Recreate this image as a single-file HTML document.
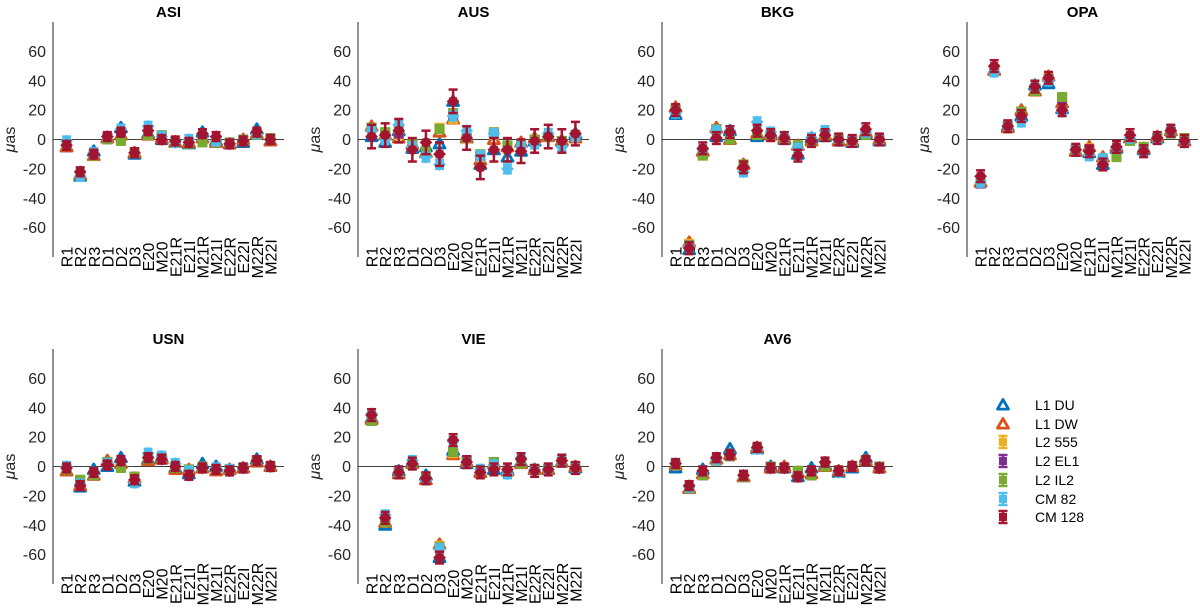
<!DOCTYPE html>
<html><head><meta charset="utf-8"><style>
html,body{margin:0;padding:0;background:#fff}
svg{display:block;font-family:"Liberation Sans",Arial,sans-serif}
</style></head><body>
<svg id="chart" width="1200" height="608" viewBox="0 0 1200 608"></svg>
<script>
const categories = ["R1","R2","R3","D1","D2","D3","E20","M20","E21R","E21I","M21R","M21I","E22R","E22I","M22R","M22I"];
const panelNames = ["ASI","AUS","BKG","OPA","USN","VIE","AV6"];
const seriesNames = ["L1 DU","L1 DW","L2 555","L2 EL1","L2 IL2","CM 82","CM 128"];
const yTicks = [60,40,20,0,-20,-40,-60];

const ASI_DU   = [-5,-25,-8,1,8,-10,4,0,-2,-3,5,-1,-3,-2,7,-1];
const ASI_DW   = [-5,-24,-11,1,3,-9,3,1,-2,-2,1,-2,-3,0,4,-1];
const ASI_555  = [-4,-24,-11,1,1,-9,4,2,-2,-3,0,-2,-3,-1,4,0];
const ASI_EL1  = [-4,-24,-10,1,2,-9,4,2,-2,-3,0,-2,-3,-1,4,0];
const ASI_IL2  = [-4,-24,-11,0,-1,-9,3,3,-2,-3,-2,-2,-2,0,3,1];
const ASI_CM82 = [-1,-25,-9,2,7,-9,9,2,-2,0,4,-1,-3,-1,4,0];
const ASI_CM128= [-4,-22,-10,2,5,-9,6,0,-1,-2,4,2,-3,-1,5,0];

const AUS_DU   = [2,-2,6,-6,-5,-3,26,1,-17,-7,-12,-8,-1,2,-1,4];
const AUS_DW   = [9,3,1,-3,-9,5,14,1,-14,0,-5,-2,1,2,-1,1];
const AUS_555  = [8,4,3,-3,-9,8,14,1,-12,3,-5,-3,0,2,-1,2];
const AUS_EL1  = [8,4,4,-3,-8,7,16,1,-11,4,-5,-3,0,2,-1,2];
const AUS_IL2  = [8,5,7,-3,-8,7,18,1,-10,5,-4,-3,0,2,-1,3];
const AUS_CM82 = [6,0,10,-5,-12,-17,16,6,-11,4,-20,-5,-3,4,-5,2];
const AUS_CM128= [2,3,6,-7,-2,-10,26,1,-19,-7,-7,-8,-1,2,-1,4];

const BKG_DU   = [17,-75,-8,2,6,-17,2,4,0,-10,1,2,-1,-2,4,-1];
const BKG_DW   = [22,-70,-8,8,0,-17,4,3,1,-4,-1,3,-1,-1,5,0];
const BKG_555  = [21,-71,-10,7,0,-17,4,3,0,-4,-1,3,0,-1,4,0];
const BKG_EL1  = [20,-72,-10,7,0,-17,3,3,0,-4,-1,3,0,-1,4,0];
const BKG_IL2  = [20,-72,-11,7,0,-17,3,3,0,-4,-1,3,0,-1,3,0];
const BKG_CM82 = [18,-73,-7,6,6,-22,12,5,2,-6,1,6,-1,-1,5,0];
const BKG_CM128= [20,-74,-6,1,5,-19,6,3,1,-11,-1,3,0,-1,7,0];

const OPA_DU   = [-29,47,9,16,37,38,21,-8,-9,-17,-6,1,-7,1,6,-1];
const OPA_DW   = [-29,47,8,20,33,43,25,-8,-5,-12,-5,1,-6,2,6,-1];
const OPA_555  = [-28,47,8,19,33,42,27,-7,-6,-13,-9,0,-6,1,5,0];
const OPA_EL1  = [-30,48,9,19,34,41,28,-7,-7,-14,-10,0,-6,1,5,0];
const OPA_IL2  = [-28,48,9,19,33,41,29,-7,-9,-14,-12,-1,-5,1,4,1];
const OPA_CM82 = [-29,46,9,12,37,40,19,-7,-11,-13,-6,1,-8,1,6,-2];
const OPA_CM128= [-25,50,9,16,36,42,20,-7,-8,-17,-5,3,-8,1,6,-1];

const USN_DU   = [-3,-14,-2,0,6,-10,5,6,-1,-5,2,0,-2,-1,5,0];
const USN_DW   = [-3,-13,-6,4,2,-8,4,5,-2,-2,-1,-3,-2,-1,3,0];
const USN_555  = [-2,-10,-6,3,0,-7,5,6,-1,-2,0,-2,-2,-1,4,0];
const USN_EL1  = [-2,-10,-6,3,0,-7,5,6,-1,-2,0,-2,-2,-1,4,0];
const USN_IL2  = [-2,-9,-6,3,-1,-7,5,6,-1,-2,0,-2,-2,-1,4,0];
const USN_CM82 = [0,-12,-4,2,4,-11,9,7,2,-3,-1,-1,-2,-1,4,0];
const USN_CM128= [-1,-13,-4,1,4,-9,6,5,0,-6,-1,-2,-3,-1,4,0];

const VIE_DU   = [33,-40,-3,3,-6,-62,11,2,-4,-2,-2,3,-2,-2,3,-1];
const VIE_DW   = [32,-38,-5,2,-9,-53,8,3,-4,2,-3,2,-2,-2,3,0];
const VIE_555  = [31,-38,-4,2,-8,-54,9,4,-3,3,-4,2,-2,-2,3,0];
const VIE_EL1  = [31,-38,-4,2,-8,-55,10,4,-3,3,-4,2,-2,-2,3,0];
const VIE_IL2  = [31,-38,-4,2,-7,-55,10,4,-3,3,-4,2,-2,-2,3,0];
const VIE_CM82 = [36,-33,-4,4,-9,-56,17,3,-2,1,-5,6,-2,-2,4,-1];
const VIE_CM128= [35,-35,-4,2,-8,-62,18,3,-4,-2,-2,5,-3,-2,4,-1];

const AV6_DU   = [-1,-15,-2,5,12,-7,12,0,-1,-7,-1,1,-4,-1,6,-1];
const AV6_DW   = [1,-15,-5,5,8,-7,13,-1,0,-4,-5,0,-3,0,4,-1];
const AV6_555  = [1,-15,-5,4,7,-7,12,0,-1,-3,-6,0,-3,0,4,0];
const AV6_EL1  = [1,-15,-6,4,7,-7,12,0,-1,-3,-6,0,-3,0,4,0];
const AV6_IL2  = [1,-15,-6,4,7,-7,12,0,-1,-3,-6,0,-3,0,4,0];
const AV6_CM82 = [2,-14,-3,5,8,-6,12,-1,-1,-7,-3,3,-4,0,4,-1];
const AV6_CM128= [2,-13,-3,6,8,-6,13,-1,-1,-7,-3,3,-3,0,4,-1];

const ERR_CM128 = {ASI:3,AUS:8,BKG:4,OPA:4,USN:3,VIE:4,AV6:3};
const ERR_CM82 = 3;
const ERR_L2 = 2;

const panelData = {
 ASI:[ASI_DU,ASI_DW,ASI_555,ASI_EL1,ASI_IL2,ASI_CM82,ASI_CM128],
 AUS:[AUS_DU,AUS_DW,AUS_555,AUS_EL1,AUS_IL2,AUS_CM82,AUS_CM128],
 BKG:[BKG_DU,BKG_DW,BKG_555,BKG_EL1,BKG_IL2,BKG_CM82,BKG_CM128],
 OPA:[OPA_DU,OPA_DW,OPA_555,OPA_EL1,OPA_IL2,OPA_CM82,OPA_CM128],
 USN:[USN_DU,USN_DW,USN_555,USN_EL1,USN_IL2,USN_CM82,USN_CM128],
 VIE:[VIE_DU,VIE_DW,VIE_555,VIE_EL1,VIE_IL2,VIE_CM82,VIE_CM128],
 AV6:[AV6_DU,AV6_DW,AV6_555,AV6_EL1,AV6_IL2,AV6_CM82,AV6_CM128]
};

const colors = ["#0072BD","#D95319","#EDB120","#7E2F8E","#77AC30","#4DBEEE","#A2142F"];
const NS="http://www.w3.org/2000/svg";
const svg=document.getElementById('chart');
function mk(tag,attrs,parent){const e=document.createElementNS(NS,tag);for(const k in attrs)e.setAttribute(k,attrs[k]);(parent||svg).appendChild(e);return e;}

const AX_W=231, AX_H=235;
const origins=[[53,22],[358,22],[662,22],[967,22],[53,349],[358,349],[662,349]];

function tri(g,x,y,c,name){
  const s=5.5;
  const p=mk('polygon',{points:`${x},${y-s} ${x+s},${y+s*0.75} ${x-s},${y+s*0.75}`,fill:'none',stroke:c,'stroke-width':2.8,'stroke-linejoin':'round'},g);
  
  
}
function ebar(g,x,y0,y1,c){
  mk('line',{x1:x,x2:x,y1:y0,y2:y1,stroke:c,'stroke-width':2.5},g);
  mk('line',{x1:x-4.5,x2:x+4.5,y1:y0,y2:y0,stroke:c,'stroke-width':2.5},g);
  mk('line',{x1:x-4.5,x2:x+4.5,y1:y1,y2:y1,stroke:c,'stroke-width':2.5},g);
}

panelNames.forEach((pn,pi)=>{
  const [ox,oy]=origins[pi];
  const xs=i=>ox+AX_W*(i+1)/17;
  const ys=v=>oy+AX_H*(80-v)/160;
  const g=mk('g',{});
  
  
  const t=mk('text',{x:ox+AX_W/2,y:oy-5,'text-anchor':'middle','font-size':15,'font-weight':'bold',fill:'#000'},g);
  t.textContent=pn;
  
  
  const ya=mk('line',{x1:ox,x2:ox,y1:oy,y2:oy+AX_H,stroke:'#262626','stroke-width':1},g);
  
  
  const zl=mk('line',{x1:ox,x2:ox+AX_W,y1:ys(0),y2:ys(0),stroke:'#404040','stroke-width':1},g);
  
  
  yTicks.forEach(v=>{
    const tt=mk('text',{x:ox-7,y:ys(v)+5.5,'text-anchor':'end','font-size':16,fill:'#262626'},g);
    tt.textContent=v;
    
    
  });
  const yl=mk('text',{x:0,y:0,transform:`translate(${ox-38},${ys(0)}) rotate(-90)`,'text-anchor':'middle','font-size':16,fill:'#262626'},g);
  yl.innerHTML='<tspan font-style="italic">μ</tspan>as';
  
  
  categories.forEach((c,i)=>{
    const xt=mk('text',{x:0,y:0,transform:`translate(${xs(i)+6},${oy+AX_H}) rotate(-90)`,'text-anchor':'middle','font-size':16,fill:'#000'},g);
    xt.textContent=c;
    
    
  });
  const ser=panelData[pn];
  ser.forEach((arr,si)=>{
    const sg=mk('g',{},g);
    
    
    arr.forEach((v,i)=>{
      const x=xs(i), y=ys(v), c=colors[si];
      if(si<2){ tri(sg,x,y,c,'marker'); }
      else if(si<5){
        ebar(sg,x,ys(v+ERR_L2),ys(v-ERR_L2),c);
        const r=mk('rect',{x:x-5,y:y-5,width:10,height:10,fill:c},sg);
        
        
      } else {
        const e=si===5?ERR_CM82:ERR_CM128[pn];
        ebar(sg,x,ys(v+e),ys(v-e),c);
        const m=mk('rect',{x:x-4.5,y:y-4.5,width:9,height:9,fill:c,transform:`rotate(45 ${x} ${y})`},sg);
        
        
        mk('rect',{x:x-4,y:y-4,width:8,height:8,fill:c},sg);
      }
    });
  });
});

const lg=mk('g',{});


const legY=[405,424,442,461,480,499,517];
seriesNames.forEach((n,si)=>{
  const x=1003,y=legY[si],c=colors[si];
  const eg=mk('g',{},lg);
  
  
  if(si<2) tri(eg,x,y,c,'legend-marker');
  else {
    ebar(eg,x,y-6,y+6,c);
    mk('rect',{x:x-4,y:y-4,width:8,height:8,fill:c},eg);
  }
  const t=mk('text',{x:1035,y:y+5,'font-size':14,fill:'#000'},eg);
  t.textContent=n;
});
</script>
</body></html>
